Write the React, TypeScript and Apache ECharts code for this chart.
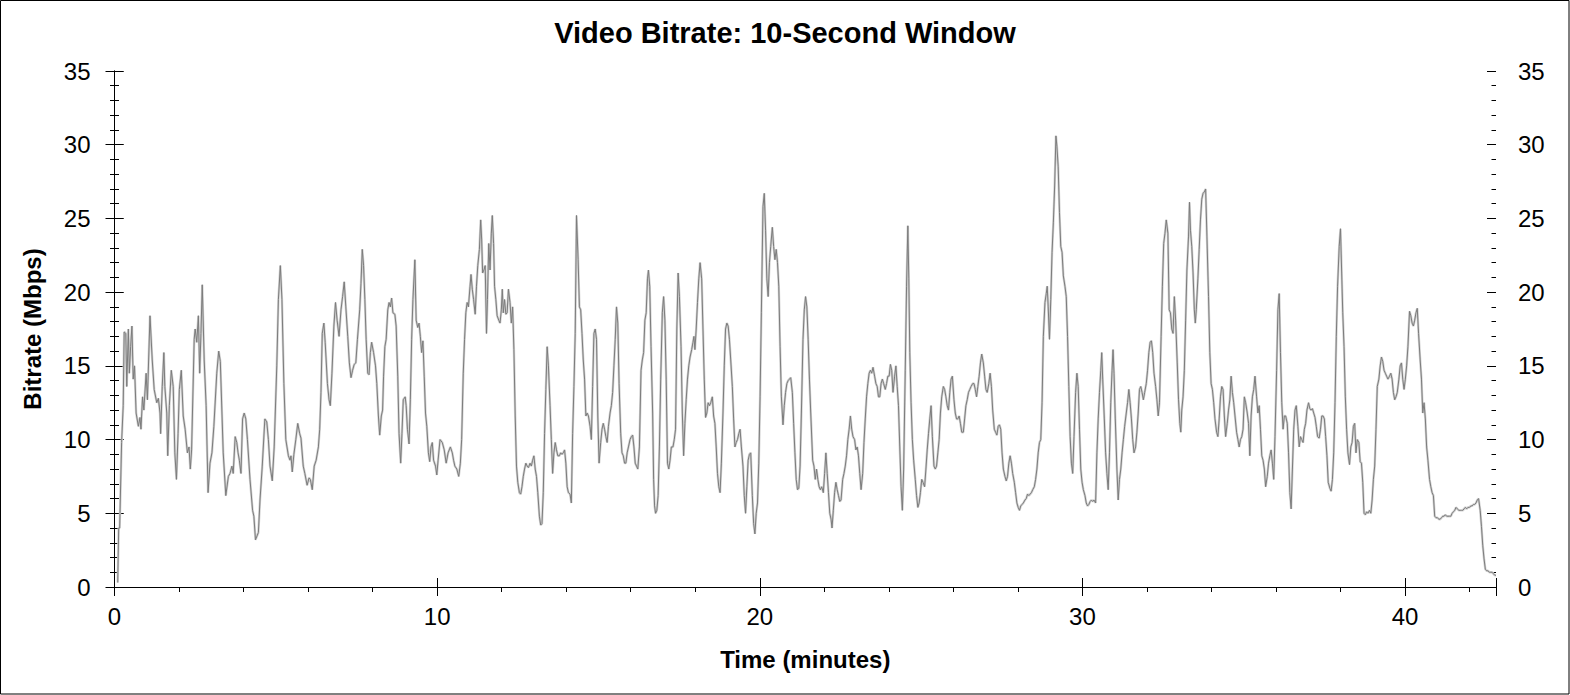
import React, { useEffect, useRef } from "react";
import * as echarts from "echarts";

const TITLE = "Video Bitrate: 10-Second Window";
const X_NAME = "Time (minutes)";
const Y_NAME = "Bitrate (Mbps)";
const X_MAX = 42.82;
const Y_MAX = 35;

// [time in minutes, bitrate in Mbps]
const samples: [number, number][] = [
  [0.10, 0.3], [0.13, 4.0], [0.16, 4.0], [0.22, 9.8], [0.27, 12.3], [0.30, 17.3], [0.35, 17.2], [0.38, 13.6],
  [0.43, 17.5], [0.46, 14.5], [0.50, 16.3], [0.54, 17.7], [0.58, 14.1], [0.62, 15.0], [0.67, 11.8], [0.74, 10.9],
  [0.79, 11.5], [0.82, 10.7], [0.87, 12.9], [0.91, 12.0], [0.98, 14.5], [1.02, 12.7], [1.10, 18.4], [1.17, 15.4],
  [1.23, 13.4], [1.31, 12.5], [1.36, 12.8], [1.41, 11.8], [1.43, 10.4], [1.48, 13.6], [1.53, 15.9], [1.56, 13.6],
  [1.62, 11.8], [1.65, 8.9], [1.70, 12.3], [1.76, 14.7], [1.82, 13.6], [1.87, 9.1], [1.92, 7.3], [1.97, 10.4],
  [2.01, 13.4], [2.07, 14.7], [2.13, 11.6], [2.19, 10.7], [2.26, 9.1], [2.31, 9.5], [2.35, 8.0], [2.39, 9.3],
  [2.47, 16.8], [2.50, 17.5], [2.55, 16.6], [2.60, 18.4], [2.64, 14.5], [2.68, 17.2], [2.72, 20.5], [2.78, 15.4],
  [2.84, 12.3], [2.90, 6.4], [2.96, 8.4], [3.02, 9.1], [3.08, 10.9], [3.17, 14.5], [3.23, 16.0], [3.28, 15.3],
  [3.37, 9.1], [3.45, 6.2], [3.53, 7.5], [3.58, 7.7], [3.64, 8.2], [3.68, 7.7], [3.74, 10.2], [3.79, 9.8],
  [3.83, 9.1], [3.87, 8.6], [3.92, 7.7], [3.97, 11.4], [4.02, 11.8], [4.07, 11.4], [4.12, 10.0], [4.20, 7.3],
  [4.28, 5.2], [4.32, 4.8], [4.37, 3.2], [4.46, 3.7], [4.51, 5.9], [4.58, 8.2], [4.66, 11.4], [4.72, 11.2],
  [4.77, 10.0], [4.82, 8.2], [4.89, 7.2], [4.95, 9.5], [5.03, 15.0], [5.08, 19.5], [5.14, 21.8], [5.19, 19.5],
  [5.25, 13.8], [5.31, 10.0], [5.39, 8.9], [5.44, 8.6], [5.47, 8.9], [5.51, 7.8], [5.56, 9.0], [5.62, 10.0],
  [5.68, 11.1], [5.74, 10.4], [5.78, 10.1], [5.85, 8.2], [5.90, 7.7], [5.97, 6.9], [6.03, 7.4], [6.07, 7.3],
  [6.13, 6.6], [6.19, 8.2], [6.25, 8.6], [6.32, 9.5], [6.36, 10.7], [6.40, 13.2], [6.44, 17.2], [6.49, 17.9],
  [6.53, 16.6], [6.60, 13.8], [6.65, 12.7], [6.69, 12.3], [6.74, 14.5], [6.80, 17.7], [6.85, 19.3], [6.90, 18.1],
  [6.96, 17.0], [7.02, 18.8], [7.07, 19.7], [7.12, 20.7], [7.17, 19.0], [7.23, 17.0], [7.28, 15.2], [7.33, 14.2],
  [7.38, 14.7], [7.43, 15.1], [7.48, 15.2], [7.53, 16.8], [7.60, 18.8], [7.64, 20.6], [7.68, 22.9], [7.72, 21.8],
  [7.76, 19.5], [7.80, 16.8], [7.85, 14.5], [7.89, 14.4], [7.93, 15.9], [7.97, 16.6], [8.03, 15.9], [8.09, 15.0],
  [8.13, 13.8], [8.18, 11.6], [8.22, 10.3], [8.27, 11.6], [8.31, 12.0], [8.34, 14.3], [8.38, 16.3], [8.42, 16.8],
  [8.47, 18.8], [8.51, 19.3], [8.55, 19.0], [8.59, 19.6], [8.63, 18.6], [8.69, 18.5], [8.73, 17.7], [8.78, 14.3],
  [8.82, 10.4], [8.87, 8.4], [8.91, 10.4], [8.95, 12.7], [9.01, 12.9], [9.04, 12.3], [9.08, 10.7], [9.13, 9.7],
  [9.17, 12.7], [9.21, 16.8], [9.25, 19.5], [9.31, 22.2], [9.35, 18.1], [9.40, 17.6], [9.44, 17.9], [9.48, 17.0],
  [9.52, 15.9], [9.56, 16.7], [9.60, 14.3], [9.64, 11.8], [9.68, 10.9], [9.73, 9.1], [9.77, 8.5], [9.81, 9.5],
  [9.85, 9.8], [9.89, 8.6], [9.95, 8.2], [9.99, 7.6], [10.03, 8.6], [10.09, 10.0], [10.16, 9.8], [10.22, 9.3],
  [10.28, 8.4], [10.34, 9.1], [10.41, 9.5], [10.47, 9.1], [10.51, 8.6], [10.55, 8.2], [10.61, 8.0], [10.67, 7.5],
  [10.72, 8.4], [10.76, 10.0], [10.81, 14.5], [10.85, 16.8], [10.89, 18.6], [10.93, 19.3], [10.97, 19.0], [11.02, 20.4],
  [11.05, 21.2], [11.09, 20.2], [11.13, 19.5], [11.18, 18.5], [11.22, 20.4], [11.26, 21.8], [11.31, 22.9], [11.35, 24.9],
  [11.38, 23.6], [11.41, 21.3], [11.45, 21.5], [11.49, 21.8], [11.53, 17.2], [11.56, 19.5], [11.60, 23.3], [11.64, 21.5],
  [11.68, 24.0], [11.71, 25.2], [11.75, 23.3], [11.78, 20.4], [11.82, 19.5], [11.86, 18.4], [11.91, 18.1], [11.95, 17.9],
  [11.99, 18.8], [12.02, 20.2], [12.05, 18.6], [12.09, 19.5], [12.13, 18.5], [12.17, 18.6], [12.21, 20.2], [12.26, 19.3],
  [12.30, 17.9], [12.34, 19.0], [12.38, 16.1], [12.42, 11.6], [12.46, 8.2], [12.50, 7.1], [12.55, 6.4], [12.59, 6.3],
  [12.63, 6.8], [12.67, 7.5], [12.71, 8.0], [12.75, 8.4], [12.79, 8.2], [12.83, 8.1], [12.88, 8.4], [12.92, 8.2],
  [12.96, 8.6], [13.00, 8.9], [13.04, 8.0], [13.08, 7.5], [13.12, 6.4], [13.17, 4.8], [13.21, 4.2], [13.25, 4.3],
  [13.29, 6.4], [13.33, 10.4], [13.37, 13.4], [13.41, 16.3], [13.45, 15.0], [13.50, 12.3], [13.54, 10.0], [13.58, 7.7],
  [13.62, 9.1], [13.66, 9.8], [13.70, 9.3], [13.74, 8.9], [13.79, 8.9], [13.83, 9.1], [13.87, 9.0], [13.91, 9.1],
  [13.95, 9.3], [13.99, 8.4], [14.03, 6.8], [14.07, 6.4], [14.12, 6.3], [14.16, 5.7], [14.20, 10.4], [14.24, 13.6],
  [14.28, 17.2], [14.32, 25.2], [14.37, 22.2], [14.41, 19.0], [14.45, 18.8], [14.49, 17.2], [14.53, 15.4], [14.57, 14.1],
  [14.61, 11.6], [14.65, 11.8], [14.69, 11.6], [14.74, 10.9], [14.78, 10.0], [14.82, 13.6], [14.86, 17.2], [14.90, 17.5],
  [14.94, 16.8], [14.98, 11.6], [15.02, 8.4], [15.07, 9.8], [15.11, 10.7], [15.15, 11.1], [15.19, 10.7], [15.23, 10.2],
  [15.27, 9.8], [15.31, 10.9], [15.36, 11.8], [15.40, 12.3], [15.44, 13.2], [15.48, 15.0], [15.52, 16.8], [15.56, 19.0],
  [15.60, 17.9], [15.64, 13.8], [15.69, 10.4], [15.73, 9.1], [15.77, 8.9], [15.81, 8.4], [15.85, 8.4], [15.89, 9.1],
  [15.93, 9.5], [15.98, 10.0], [16.02, 10.2], [16.06, 10.3], [16.10, 9.5], [16.14, 8.4], [16.18, 8.2], [16.22, 8.0],
  [16.27, 9.5], [16.32, 14.7], [16.36, 15.4], [16.40, 15.9], [16.44, 18.1], [16.48, 18.6], [16.52, 20.9], [16.55, 21.5],
  [16.59, 20.4], [16.63, 16.3], [16.68, 11.8], [16.71, 7.3], [16.74, 5.5], [16.77, 5.0], [16.81, 5.2], [16.85, 6.2],
  [16.89, 9.5], [16.93, 14.1], [16.98, 18.6], [17.02, 19.7], [17.06, 18.1], [17.10, 14.1], [17.14, 8.4], [17.18, 8.0],
  [17.22, 8.6], [17.26, 9.5], [17.31, 9.5], [17.35, 10.0], [17.39, 10.7], [17.43, 17.5], [17.47, 21.3], [17.51, 19.7],
  [17.56, 16.3], [17.60, 11.8], [17.64, 8.9], [17.68, 11.1], [17.72, 12.7], [17.76, 14.1], [17.80, 15.0], [17.84, 15.6],
  [17.89, 16.1], [17.93, 16.6], [17.96, 17.0], [17.99, 16.1], [18.03, 17.5], [18.07, 19.3], [18.11, 20.9], [18.15, 22.0],
  [18.20, 20.9], [18.24, 17.5], [18.28, 14.1], [18.32, 11.5], [18.36, 11.8], [18.40, 12.5], [18.44, 12.3], [18.48, 12.5],
  [18.53, 12.9], [18.57, 11.6], [18.61, 11.1], [18.65, 9.5], [18.69, 7.7], [18.73, 6.8], [18.77, 6.4], [18.81, 8.4],
  [18.86, 11.8], [18.90, 15.0], [18.94, 17.5], [18.98, 17.9], [19.02, 17.7], [19.06, 16.8], [19.10, 15.4], [19.15, 13.6],
  [19.19, 11.4], [19.23, 9.5], [19.27, 9.8], [19.31, 10.0], [19.35, 10.4], [19.39, 10.7], [19.43, 9.5], [19.48, 8.2],
  [19.52, 6.2], [19.56, 5.0], [19.60, 6.8], [19.64, 8.6], [19.68, 9.0], [19.72, 9.1], [19.77, 6.2], [19.81, 4.3],
  [19.85, 3.6], [19.89, 5.0], [19.93, 5.7], [19.97, 8.4], [20.01, 12.9], [20.05, 18.6], [20.10, 25.8], [20.14, 26.7],
  [20.18, 24.2], [20.22, 20.9], [20.26, 19.7], [20.30, 22.0], [20.34, 23.1], [20.39, 24.4], [20.43, 23.1], [20.47, 22.2],
  [20.51, 22.9], [20.55, 22.0], [20.59, 20.4], [20.63, 16.3], [20.67, 12.9], [20.72, 11.0], [20.76, 12.3], [20.80, 13.2],
  [20.84, 13.8], [20.88, 14.0], [20.92, 14.1], [20.96, 14.2], [21.01, 13.2], [21.05, 11.1], [21.09, 9.1], [21.13, 7.3],
  [21.17, 6.6], [21.21, 6.7], [21.25, 8.2], [21.29, 11.8], [21.34, 16.8], [21.38, 18.8], [21.42, 19.7], [21.46, 19.0],
  [21.50, 16.8], [21.54, 14.1], [21.58, 11.8], [21.64, 8.6], [21.68, 8.2], [21.72, 7.3], [21.76, 8.0], [21.80, 7.3],
  [21.84, 6.8], [21.88, 6.6], [21.92, 6.8], [21.97, 6.4], [22.01, 7.7], [22.05, 9.1], [22.09, 7.7], [22.13, 6.4],
  [22.17, 5.0], [22.21, 4.6], [22.24, 4.0], [22.28, 5.2], [22.32, 6.4], [22.36, 7.1], [22.40, 6.6], [22.44, 6.2],
  [22.48, 5.8], [22.52, 5.9], [22.57, 7.3], [22.61, 7.7], [22.65, 8.2], [22.69, 8.9], [22.73, 10.0], [22.77, 10.7],
  [22.81, 11.6], [22.85, 10.7], [22.89, 10.2], [22.94, 10.0], [22.98, 9.3], [23.02, 9.5], [23.06, 8.9], [23.10, 7.7],
  [23.14, 6.6], [23.19, 7.7], [23.23, 9.8], [23.27, 11.4], [23.31, 12.9], [23.35, 13.8], [23.39, 14.5], [23.43, 14.7],
  [23.47, 14.5], [23.51, 14.9], [23.56, 14.3], [23.60, 13.8], [23.64, 13.6], [23.68, 12.9], [23.72, 12.9], [23.76, 13.8],
  [23.80, 14.1], [23.84, 13.8], [23.89, 13.4], [23.93, 13.8], [23.97, 14.3], [24.01, 14.3], [24.05, 15.1], [24.09, 14.7],
  [24.13, 13.2], [24.18, 14.3], [24.22, 15.0], [24.26, 13.6], [24.30, 12.3], [24.34, 9.5], [24.38, 6.8], [24.42, 5.2],
  [24.46, 8.0], [24.51, 14.7], [24.55, 20.4], [24.59, 24.5], [24.62, 20.9], [24.65, 15.9], [24.69, 12.5], [24.73, 10.0],
  [24.77, 8.6], [24.82, 7.3], [24.86, 6.2], [24.90, 5.4], [24.94, 5.7], [24.98, 6.4], [25.02, 7.3], [25.06, 7.1],
  [25.11, 6.8], [25.15, 8.0], [25.19, 9.3], [25.23, 10.4], [25.27, 11.4], [25.31, 12.3], [25.35, 10.2], [25.40, 8.2],
  [25.44, 8.0], [25.48, 8.2], [25.52, 9.1], [25.56, 10.0], [25.60, 11.8], [25.64, 12.9], [25.69, 13.6], [25.73, 13.4],
  [25.77, 12.9], [25.81, 12.3], [25.85, 12.0], [25.89, 13.2], [25.93, 14.1], [25.97, 14.3], [26.02, 12.7], [26.06, 11.8],
  [26.10, 11.4], [26.14, 11.4], [26.18, 11.6], [26.22, 11.1], [26.26, 10.5], [26.31, 10.5], [26.35, 11.4], [26.39, 12.3],
  [26.43, 12.7], [26.47, 13.2], [26.51, 13.4], [26.55, 13.6], [26.60, 13.8], [26.64, 13.8], [26.68, 13.4], [26.72, 12.9],
  [26.76, 13.6], [26.80, 14.3], [26.84, 15.2], [26.88, 15.8], [26.93, 15.2], [26.97, 14.3], [27.01, 13.4], [27.05, 13.2],
  [27.10, 13.8], [27.14, 14.5], [27.18, 13.6], [27.22, 12.0], [27.27, 10.7], [27.31, 10.5], [27.35, 10.3], [27.39, 10.9],
  [27.43, 11.0], [27.47, 10.7], [27.51, 9.1], [27.55, 8.0], [27.60, 7.5], [27.64, 7.2], [27.68, 7.5], [27.72, 8.4],
  [27.76, 8.9], [27.80, 8.4], [27.84, 7.7], [27.89, 7.1], [27.93, 6.4], [27.97, 5.7], [28.01, 5.4], [28.05, 5.2],
  [28.09, 5.5], [28.13, 5.6], [28.17, 5.7], [28.22, 5.9], [28.26, 6.0], [28.30, 6.3], [28.34, 6.2], [28.38, 6.3],
  [28.42, 6.4], [28.46, 6.6], [28.51, 6.8], [28.55, 7.3], [28.59, 8.0], [28.63, 9.1], [28.67, 9.8], [28.71, 10.0],
  [28.75, 12.5], [28.79, 17.0], [28.84, 19.3], [28.88, 19.9], [28.91, 20.4], [28.94, 19.0], [28.98, 16.8], [29.02, 19.5],
  [29.06, 22.7], [29.10, 24.7], [29.14, 27.2], [29.18, 30.6], [29.21, 29.9], [29.25, 28.5], [29.29, 25.4], [29.33, 23.1],
  [29.37, 22.7], [29.41, 21.1], [29.46, 20.4], [29.50, 19.7], [29.54, 17.0], [29.58, 13.6], [29.62, 10.2], [29.66, 8.4],
  [29.70, 7.7], [29.74, 10.2], [29.79, 13.2], [29.83, 14.5], [29.87, 13.6], [29.91, 10.7], [29.95, 8.0], [29.99, 7.1],
  [30.03, 6.6], [30.08, 6.2], [30.12, 5.7], [30.16, 5.5], [30.20, 5.6], [30.24, 5.8], [30.28, 5.9], [30.32, 5.8],
  [30.36, 5.9], [30.41, 5.7], [30.45, 9.1], [30.49, 11.4], [30.53, 13.2], [30.57, 14.7], [30.60, 15.9], [30.63, 14.1],
  [30.68, 11.4], [30.72, 9.1], [30.76, 7.7], [30.80, 6.6], [30.84, 9.1], [30.88, 12.5], [30.92, 14.7], [30.95, 16.1],
  [30.98, 14.5], [31.02, 11.4], [31.07, 8.0], [31.11, 5.9], [31.15, 7.3], [31.19, 8.0], [31.23, 9.1], [31.27, 10.0],
  [31.31, 10.9], [31.36, 11.8], [31.40, 12.5], [31.44, 13.4], [31.48, 12.5], [31.52, 11.4], [31.56, 10.0], [31.60, 9.1],
  [31.65, 9.5], [31.69, 10.5], [31.73, 11.8], [31.77, 13.4], [31.81, 13.6], [31.85, 13.2], [31.89, 12.7], [31.93, 13.2],
  [31.98, 13.8], [32.02, 14.7], [32.06, 15.9], [32.10, 16.6], [32.14, 16.7], [32.18, 15.9], [32.22, 14.5], [32.27, 13.6],
  [32.31, 12.7], [32.35, 11.6], [32.39, 12.5], [32.44, 17.0], [32.48, 20.4], [32.52, 23.3], [32.56, 24.0], [32.60, 24.9],
  [32.65, 24.0], [32.69, 18.8], [32.73, 18.6], [32.77, 17.5], [32.81, 17.2], [32.85, 19.7], [32.89, 18.1], [32.94, 15.2],
  [32.98, 12.7], [33.02, 11.1], [33.05, 10.5], [33.08, 12.0], [33.12, 12.9], [33.16, 14.7], [33.20, 18.1], [33.24, 21.5],
  [33.29, 23.8], [33.32, 26.1], [33.35, 24.2], [33.39, 23.1], [33.43, 21.3], [33.47, 18.8], [33.50, 17.9], [33.53, 18.8],
  [33.58, 20.9], [33.62, 22.9], [33.66, 24.9], [33.70, 26.3], [33.74, 26.7], [33.78, 26.8], [33.82, 27.0], [33.86, 23.8],
  [33.91, 19.7], [33.95, 15.9], [33.99, 13.8], [34.03, 13.4], [34.07, 12.5], [34.11, 11.4], [34.16, 10.5], [34.20, 10.2],
  [34.24, 11.4], [34.28, 12.9], [34.32, 13.6], [34.36, 13.4], [34.40, 11.6], [34.44, 10.2], [34.49, 11.1], [34.53, 12.0],
  [34.57, 12.7], [34.61, 14.3], [34.65, 13.2], [34.69, 12.5], [34.73, 11.6], [34.78, 10.5], [34.82, 10.0], [34.86, 9.5],
  [34.90, 10.0], [34.94, 10.2], [34.98, 10.7], [35.02, 12.9], [35.06, 12.5], [35.11, 11.8], [35.15, 11.1], [35.19, 8.9],
  [35.23, 11.6], [35.27, 12.9], [35.31, 13.4], [35.35, 14.3], [35.40, 12.9], [35.44, 11.8], [35.48, 12.3], [35.52, 10.7],
  [35.56, 8.9], [35.60, 8.6], [35.64, 8.0], [35.68, 6.8], [35.73, 7.5], [35.77, 8.4], [35.81, 8.9], [35.85, 9.3],
  [35.89, 8.4], [35.93, 7.3], [35.97, 10.2], [36.02, 14.7], [36.06, 18.8], [36.10, 19.9], [36.14, 15.9], [36.18, 12.5],
  [36.22, 10.7], [36.26, 11.6], [36.30, 11.6], [36.35, 11.1], [36.39, 9.1], [36.43, 6.4], [36.47, 5.3], [36.51, 8.0],
  [36.55, 10.7], [36.59, 12.0], [36.63, 12.3], [36.68, 10.9], [36.72, 9.5], [36.76, 10.2], [36.80, 10.0], [36.84, 9.8],
  [36.88, 10.7], [36.92, 11.1], [36.96, 12.0], [37.01, 12.5], [37.05, 12.1], [37.09, 12.0], [37.13, 12.1], [37.17, 11.8],
  [37.21, 11.5], [37.25, 10.9], [37.29, 10.2], [37.34, 10.1], [37.38, 10.7], [37.42, 11.6], [37.46, 11.6], [37.50, 11.4],
  [37.54, 10.2], [37.58, 8.9], [37.62, 7.1], [37.67, 6.7], [37.71, 6.5], [37.75, 7.3], [37.79, 9.1], [37.83, 12.5],
  [37.87, 17.0], [37.91, 20.4], [37.96, 23.1], [38.00, 24.3], [38.07, 18.6], [38.11, 16.3], [38.15, 12.9], [38.19, 10.7],
  [38.23, 9.1], [38.28, 8.3], [38.32, 9.5], [38.36, 9.8], [38.40, 10.9], [38.44, 11.1], [38.48, 9.1], [38.52, 10.0],
  [38.57, 9.8], [38.61, 8.5], [38.65, 8.4], [38.69, 7.1], [38.73, 5.0], [38.77, 4.9], [38.81, 5.1], [38.85, 5.0],
  [38.90, 5.2], [38.94, 5.0], [38.98, 5.9], [39.02, 7.3], [39.06, 8.2], [39.10, 10.7], [39.14, 13.6], [39.19, 14.1],
  [39.23, 15.0], [39.27, 15.6], [39.31, 15.3], [39.35, 14.7], [39.39, 14.5], [39.43, 14.3], [39.47, 14.1], [39.52, 14.3],
  [39.56, 14.5], [39.60, 14.1], [39.64, 13.2], [39.68, 12.7], [39.72, 12.9], [39.76, 13.2], [39.81, 14.1], [39.85, 15.0],
  [39.89, 15.2], [39.93, 14.1], [39.97, 13.4], [40.01, 14.1], [40.05, 15.0], [40.09, 16.3], [40.14, 18.7], [40.18, 18.4],
  [40.22, 17.9], [40.26, 17.7], [40.30, 18.1], [40.34, 18.6], [40.38, 18.9], [40.42, 17.2], [40.47, 15.4], [40.51, 14.1],
  [40.55, 11.8], [40.59, 12.5], [40.63, 11.4], [40.67, 9.5], [40.71, 8.6], [40.76, 7.3], [40.80, 6.8], [40.84, 6.4],
  [40.88, 6.2], [40.92, 4.8], [40.96, 4.7], [41.00, 4.7], [41.05, 4.6], [41.09, 4.6], [41.13, 4.7], [41.17, 4.8],
  [41.21, 4.8], [41.25, 4.9], [41.29, 4.8], [41.33, 4.8], [41.38, 4.8], [41.42, 4.8], [41.46, 5.0], [41.50, 5.1],
  [41.54, 5.2], [41.58, 5.4], [41.62, 5.3], [41.67, 5.2], [41.71, 5.2], [41.75, 5.2], [41.79, 5.2], [41.83, 5.3],
  [41.87, 5.4], [41.91, 5.3], [41.95, 5.4], [42.00, 5.4], [42.04, 5.5], [42.08, 5.5], [42.12, 5.6], [42.16, 5.6],
  [42.20, 5.7], [42.24, 5.9], [42.28, 6.0], [42.33, 5.2], [42.37, 4.1], [42.41, 2.8], [42.45, 1.9], [42.49, 1.2],
  [42.53, 1.1], [42.57, 1.1], [42.62, 1.0], [42.66, 1.0], [42.70, 1.0], [42.74, 0.9], [42.78, 0.8], [42.82, 0.8],
];

const FONT = "'Liberation Sans', Arial, Helvetica, sans-serif";

export default function App() {
  const ref = useRef<HTMLDivElement>(null);

  useEffect(() => {
    document.body.style.margin = "0";
    if (!ref.current) return;
    const chart = echarts.init(ref.current, undefined, { renderer: "svg" });

    const axisLine = { show: true, lineStyle: { color: "#000", width: 1 } };
    const xBase = { type: "value" as const, min: 0, max: X_MAX, interval: 10, splitLine: { show: false } };
    const yBase = { type: "value" as const, min: 0, max: Y_MAX, interval: 5, splitLine: { show: false } };
    const tickStyle = { color: "#000", width: 1 };
    const labelStyle = { color: "#000", fontSize: 24, fontFamily: FONT };

    chart.setOption({
      animation: false,
      backgroundColor: "#fff",
      title: {
        text: TITLE,
        left: "center",
        top: 13,
        textStyle: { color: "#000", fontSize: 29, fontWeight: "bold", fontFamily: FONT },
      },
      grid: { left: 114.5, right: 74, top: 71, bottom: 108, containLabel: false },
      xAxis: [
        {
          ...xBase,
          position: "bottom",
          axisLine,
          axisTick: { show: true, inside: false, length: 9, lineStyle: tickStyle },
          minorTick: { show: true, splitNumber: 5, length: 5, lineStyle: tickStyle },
          axisLabel: { ...labelStyle, margin: 17, showMaxLabel: false },
          name: X_NAME,
          nameLocation: "middle",
          nameGap: 60,
          nameTextStyle: { color: "#000", fontSize: 24, fontWeight: "bold", fontFamily: FONT },
        },
        {
          ...xBase,
          position: "bottom",
          axisLine: { show: false },
          axisTick: { show: true, inside: true, length: 9, lineStyle: tickStyle },
          minorTick: { show: false },
          axisLabel: { show: false },
        },
        {
          ...xBase,
          position: "top",
          axisLine,
          axisTick: { show: true, inside: true, length: 9, lineStyle: tickStyle },
          minorTick: { show: true, splitNumber: 5, length: 4.5, lineStyle: tickStyle },
          axisLabel: { show: false },
        },
      ],
      yAxis: [
        {
          ...yBase,
          position: "left",
          axisLine,
          axisTick: { show: true, inside: false, length: 9, lineStyle: tickStyle },
          minorTick: { show: true, splitNumber: 5, length: 4.5, lineStyle: tickStyle },
          axisLabel: { ...labelStyle, margin: 24 },
          name: Y_NAME,
          nameLocation: "middle",
          nameGap: 70,
          nameRotate: 90,
          nameTextStyle: { color: "#000", fontSize: 24, fontWeight: "bold", fontFamily: FONT },
        },
        {
          ...yBase,
          position: "left",
          axisLine: { show: false },
          axisTick: { show: true, inside: true, length: 9, lineStyle: tickStyle },
          minorTick: { show: true, splitNumber: 5, length: 4.5, lineStyle: tickStyle },
          axisLabel: { show: false },
        },
        {
          ...yBase,
          position: "right",
          axisLine,
          axisTick: { show: true, inside: false, length: 9, lineStyle: tickStyle },
          minorTick: { show: true, splitNumber: 5, length: 4.5, lineStyle: tickStyle },
          axisLabel: { ...labelStyle, margin: 22 },
        },
        {
          ...yBase,
          position: "right",
          axisLine: { show: false },
          axisTick: { show: true, inside: true, length: 9, lineStyle: tickStyle },
          minorTick: { show: true, splitNumber: 5, length: 4.5, lineStyle: tickStyle },
          axisLabel: { show: false },
        },
      ],
      series: [
        {
          name: "halo",
          type: "line",
          xAxisIndex: 0,
          yAxisIndex: 0,
          data: samples,
          showSymbol: false,
          silent: true,
          lineStyle: { color: "#d2d2d2", width: 2.4 },
          z: 1,
        },
        {
          name: "Bitrate",
          type: "line",
          xAxisIndex: 0,
          yAxisIndex: 0,
          data: samples,
          showSymbol: false,
          lineStyle: { color: "#7c7c7c", width: 1 },
          z: 2,
        },
      ],
      graphic: [
        {
          type: "rect",
          shape: { x: 0.5, y: 0.5, width: 1568.5, height: 693.5 },
          style: { fill: "none", stroke: "#000", lineWidth: 1 },
          silent: true,
          z: 100,
        },
      ],
    });

    return () => chart.dispose();
  }, []);

  return <div ref={ref} style={{ width: 1570, height: 695 }} />;
}
